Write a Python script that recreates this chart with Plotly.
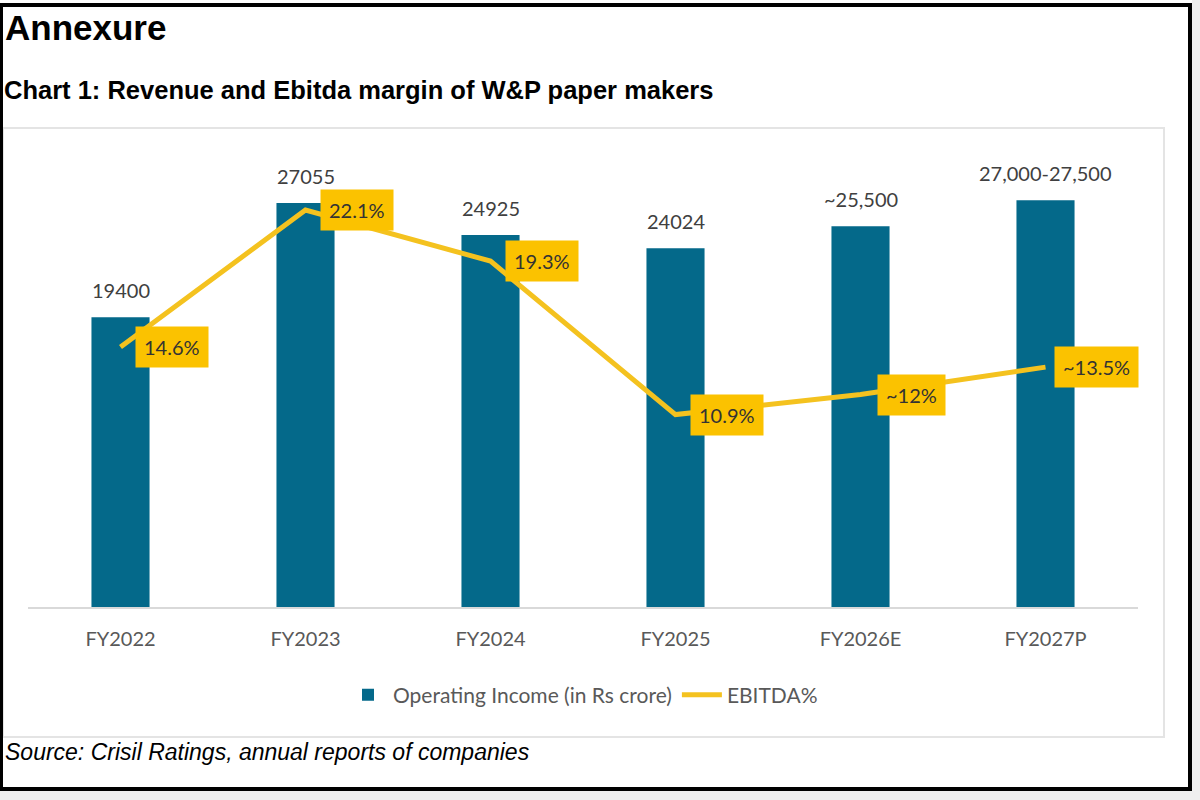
import plotly.graph_objects as go

# data
years = ["FY2022", "FY2023", "FY2024", "FY2025", "FY2026E", "FY2027P"]
income = [19400, 27055, 24925, 24024, 25500, 27250]
income_labels = ["19400", "27055", "24925", "24024", "~25,500", "27,000-27,500"]
ebitda = [14.6, 22.1, 19.3, 10.9, 12.0, 13.5]
ebitda_labels = ["14.6%", "22.1%", "19.3%", "10.9%", "~12%", "~13.5%"]

W, H = 1200, 800
L, R, T, B = 28, 62, 140, 193
pw, ph = W - L - R, H - T - B

def px(x):
    return (x - L) / pw

def py(y):
    return (H - B - y) / ph

teal = "#04698a"
gold = "#f4c21f"
box_gold = "#fbc200"

fig = go.Figure()

fig.add_trace(go.Bar(
    x=years, y=income, name="Operating Income (in Rs crore)",
    marker=dict(color=teal, line=dict(width=0)), width=0.314,
))

fig.add_trace(go.Scatter(
    x=years, y=ebitda, name="EBITDA%", yaxis="y2",
    mode="lines", line=dict(color=gold, width=5),
))

anns = []
for yr, v, lab in zip(years, income, income_labels):
    anns.append(dict(x=yr, y=v, xref="x", yref="y", text=lab, showarrow=False,
                     yanchor="bottom", yshift=13,
                     font=dict(family="Lato", size=20, color="#404040")))
for yr, v, lab in zip(years, ebitda, ebitda_labels):
    anns.append(dict(x=yr, y=v, xref="x", yref="y2", text=lab, showarrow=False,
                     xshift=51, yshift=0, bgcolor=box_gold, borderpad=8,
                     font=dict(family="Lato", size=20, color="#333333")))

anns.append(dict(x=px(3), y=py(28), xref="paper", yref="paper", text="<b>Annexure</b>",
                 showarrow=False, xanchor="left", yanchor="middle",
                 font=dict(family="Liberation Sans", size=35, color="black")))
anns.append(dict(x=px(2), y=py(90), xref="paper", yref="paper",
                 text="<b>Chart 1: Revenue and Ebitda margin of W&P paper makers</b>",
                 showarrow=False, xanchor="left", yanchor="middle",
                 font=dict(family="Liberation Sans", size=25.5, color="black")))
anns.append(dict(x=px(3), y=py(752), xref="paper", yref="paper",
                 text="<i>Source: Crisil Ratings, annual reports of companies</i>",
                 showarrow=False, xanchor="left", yanchor="middle",
                 font=dict(family="Liberation Sans", size=23, color="black")))

shapes = [
    # chart frame
    dict(type="rect", xref="paper", yref="paper", x0=px(3), x1=px(1164), y0=py(128), y1=py(737),
         line=dict(color="#e4e4e4", width=2), layer="below"),
    # outer black border
    dict(type="rect", xref="paper", yref="paper", x0=px(1), x1=px(1190), y0=py(5), y1=py(789),
         line=dict(color="black", width=4)),
    # grey strips outside border
    dict(type="rect", xref="paper", yref="paper", x0=px(1192), x1=px(1200), y0=py(0), y1=py(800),
         fillcolor="#efefef", line=dict(width=0)),
    dict(type="rect", xref="paper", yref="paper", x0=px(0), x1=px(1200), y0=py(791), y1=py(800),
         fillcolor="#efefef", line=dict(width=0)),
]

fig.update_layout(
    width=W, height=H,
    margin=dict(l=L, r=R, t=T, b=B),
    paper_bgcolor="white", plot_bgcolor="white",
    showlegend=True,
    legend=dict(orientation="h", x=0.5, xanchor="center", y=py(695), yanchor="middle",
                font=dict(family="Lato", size=21, color="#595959"), itemwidth=40,
                traceorder="normal"),
    xaxis=dict(showline=True, linecolor="#d9d9d9", linewidth=2, showgrid=False,
               tickfont=dict(family="Lato", size=20, color="#595959"),
               ticklabelstandoff=13, range=[-0.5, 5.5]),
    yaxis=dict(visible=False, range=[0, 31280]),
    yaxis2=dict(visible=False, range=[0.37, 25.93], overlaying="y"),
    annotations=anns,
    shapes=shapes,
    bargap=0.686,
)

fig.write_html("out.html", config={"displayModeBar": False},
               post_script="document.body.style.margin='0';")
